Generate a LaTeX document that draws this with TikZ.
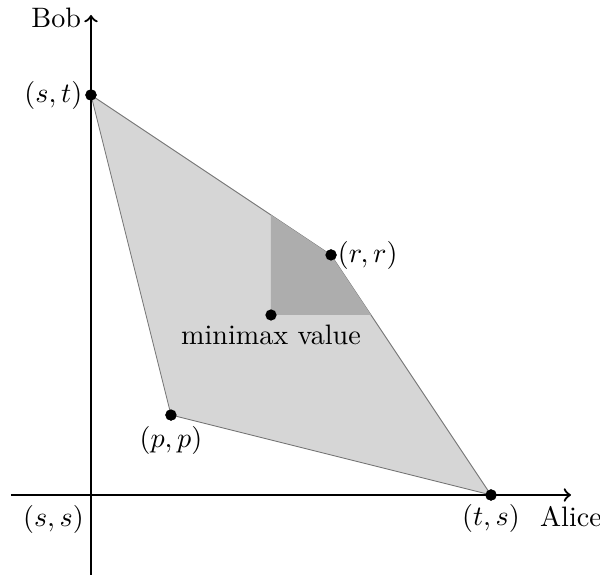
\documentclass[tikz,border=0pt]{standalone}
\usetikzlibrary{positioning}

\begin{document}
\begin{tikzpicture}[
        x=0.5cm, y=0.5cm,
        axis/.style={thick, ->},
        region/.style={fill=black!16, draw=black!55, line width=0.3pt},
        minimaxRegion/.style={fill=black!32},
        pt/.style={circle, fill=black, inner sep=0pt, minimum size=4pt}
    ]

        \useasboundingbox (-2.275,-2) rectangle (12.725,12.375);

        % ========================================================
        % PUNTOS
        % ========================================================
        \coordinate (ss) at (0,0);
        \node[pt] (st) at (0,10) {};
        \node[pt] (rr) at (6,6) {};
        \node[pt] (pp) at (2,2) {};
        \node[pt] (ts) at (10,0) {};
        \node[pt] (mm) at (4.5,4.5) {};

        % ========================================================
        % REGIONES
        % ========================================================
        \path[region] (st.center) -- (rr.center) -- (ts.center) -- (pp.center) -- cycle;
        \fill[minimaxRegion] (mm.center) -- (4.5,7) -- (rr.center) -- (7,4.5) -- cycle;

        % ========================================================
        % EJES
        % ========================================================
        \coordinate (xmin) at (-2,0);
        \coordinate (xmax) at (12,0);
        \coordinate (ymin) at (0,-2);
        \coordinate (ymax) at (0,12);
        \draw[axis] (xmin) -- (xmax);
        \draw[axis] (ymin) -- (ymax);
        \node[below=0.5pt of xmax] (alice) {Alice};
        \node[left=0pt of ymax, yshift=-1pt] (bob) {Bob};

        % ========================================================
        % ETIQUETAS
        % ========================================================
        \node[pt] at (st) {};
        \node[pt] at (ts) {};
        \node[pt] at (rr) {};
        \node[pt] at (pp) {};
        \node[pt] at (mm) {};

        \node[left=-2.6pt of st] {$(s,t)$};
        \node[right=-3.3pt of rr] {$(r,r)$};
        \node[below=-2.3pt of mm] {minimax value};
        \node[below=-1.6pt of pp] {$(p,p)$};
        \node[below=-2.3pt of ts] {$(t,s)$};
        \node[below left=0pt and -1pt of ss] {$(s,s)$};

    \end{tikzpicture}
\end{document}
